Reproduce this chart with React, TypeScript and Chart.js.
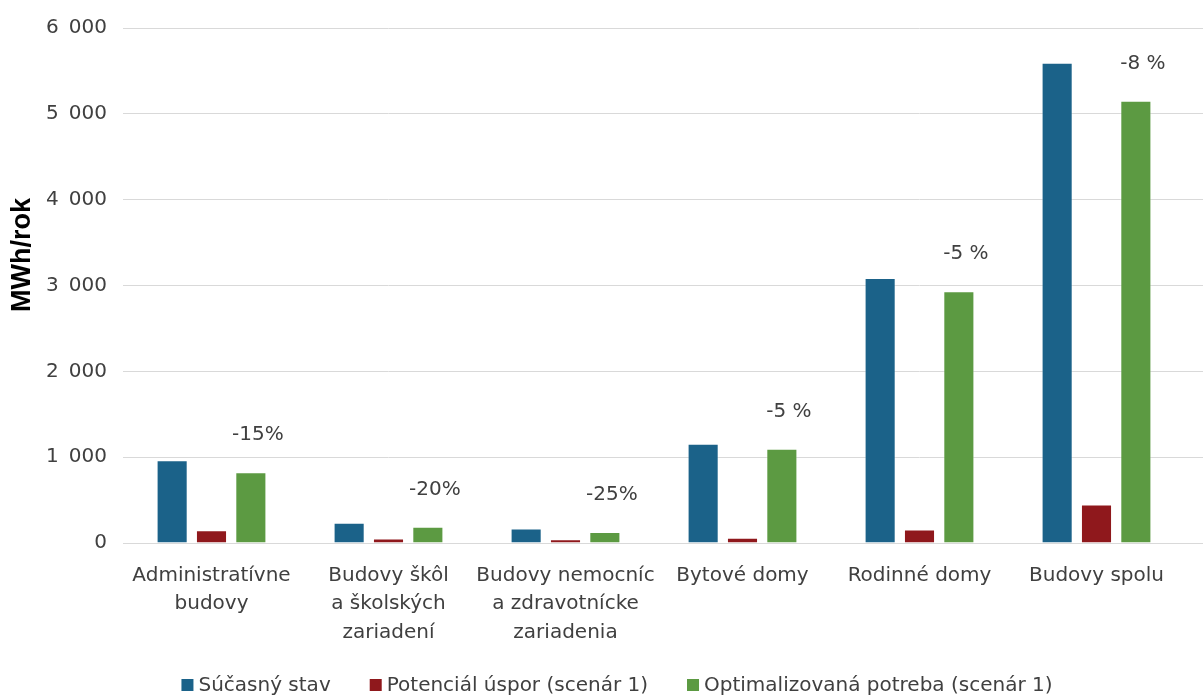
import React, { useEffect, useRef } from "react";
import { Chart, registerables } from "chart.js";

Chart.register(...registerables);

const categories: string[][] = [
  ["Administratívne", "budovy"],
  ["Budovy škôl", "a školských", "zariadení"],
  ["Budovy nemocníc", "a zdravotnícke", "zariadenia"],
  ["Bytové domy"],
  ["Rodinné domy"],
  ["Budovy spolu"],
];
const currentState = [963, 236, 170, 1157, 3087, 5594];
const savingsPotential = [150, 52, 44, 62, 157, 449];
const optimizedDemand = [824, 190, 128, 1099, 2933, 5153];
const pctLabels = ["-15%", "-20%", "-25%", "-5 %", "-5 %", "-8 %"];
const seriesNames = ["Súčasný stav", "Potenciál úspor (scenár 1)", "Optimalizovaná potreba (scenár 1)"];
const seriesColors = ["#1B6289", "#8F181C", "#5C9A42"];
const yTitle = "MWh/rok";

const FONT = "'DejaVu Sans', sans-serif";
const TEXT = "#404040";
const GRID = "#d9d9d9";

const extrasPlugin = {
  id: "extras",
  beforeDatasetsDraw(chart: any) {
    const { ctx, chartArea, scales } = chart;
    const y = scales.y;
    ctx.save();
    ctx.strokeStyle = GRID;
    ctx.lineWidth = 1;
    y.ticks.forEach((t: any) => {
      const py = Math.round(y.getPixelForValue(t.value) - 0.5) + 0.5;
      ctx.beginPath();
      ctx.moveTo(chartArea.right, py);
      ctx.lineTo(chart.width, py);
      ctx.stroke();
    });
    ctx.restore();
  },
  afterDatasetsDraw(chart: any) {
    const { ctx } = chart;
    const meta = chart.getDatasetMeta(2);
    ctx.save();
    ctx.font = `20px ${FONT}`;
    ctx.fillStyle = TEXT;
    ctx.textAlign = "center";
    ctx.textBaseline = "middle";
    meta.data.forEach((el: any, i: number) => {
      ctx.fillText(pctLabels[i], el.x + 7, el.y - 37);
    });
    ctx.restore();
  },
  afterDraw(chart: any) {
    const { ctx } = chart;
    ctx.save();
    ctx.font = `bold 27px 'Liberation Sans', Arial, sans-serif`;
    ctx.fillStyle = "#000";
    ctx.textAlign = "center";
    ctx.textBaseline = "middle";
    ctx.translate(23, 255);
    ctx.rotate(-Math.PI / 2);
    ctx.fillText(yTitle, 0, 0);
    ctx.restore();

    ctx.save();
    ctx.font = `20px ${FONT}`;
    ctx.textBaseline = "middle";
    const box = 12;
    const gapBoxText = 5;
    const itemGap = 39;
    const widths = seriesNames.map((n) => box + gapBoxText + ctx.measureText(n).width);
    const total = widths.reduce((a, b) => a + b, 0) + itemGap * (widths.length - 1);
    let x = 617 - total / 2;
    const cy = 685;
    seriesNames.forEach((n, i) => {
      ctx.fillStyle = seriesColors[i];
      ctx.fillRect(x, cy - box / 2, box, box);
      ctx.fillStyle = TEXT;
      ctx.textAlign = "left";
      ctx.fillText(n, x + box + gapBoxText, cy + 1);
      x += widths[i] + itemGap;
    });
    ctx.restore();
  },
};

export default function App() {
  const ref = useRef<HTMLCanvasElement | null>(null);
  useEffect(() => {
    document.body.style.margin = "0";
    const canvas = ref.current!;
    const mk = (i: number, data: number[]) => ({
      label: seriesNames[i],
      data,
      backgroundColor: seriesColors[i],
      borderColor: "rgba(255,255,255,0.35)",
      borderWidth: 1,
      categoryPercentage: 0.667,
      barPercentage: 0.79,
    });
    const chart = new Chart(canvas, {
      type: "bar",
      data: {
        labels: categories,
        datasets: [mk(0, currentState), mk(1, savingsPotential), mk(2, optimizedDemand)],
      },
      options: {
        animation: false,
        responsive: false,
        maintainAspectRatio: false,
        layout: { padding: { top: 26, right: 18, bottom: 0, left: 0 } },
        plugins: {
          legend: { display: false },
          tooltip: { enabled: false },
        },
        scales: {
          x: {
            grid: { display: false, drawTicks: false },
            border: { display: true, color: GRID, width: 1 },
            ticks: {
              color: TEXT,
              font: { family: FONT, size: 20, lineHeight: 1.43 },
              padding: 18,
              maxRotation: 0,
              autoSkip: false,
            },
            afterFit(scale: any) {
              scale.height = 152;
            },
          },
          y: {
            min: 0,
            max: 6000,
            grid: { color: GRID, drawTicks: false },
            border: { display: false },
            ticks: {
              stepSize: 1000,
              color: TEXT,
              font: { family: FONT, size: 20 },
              padding: 16,
              callback: (v: any) => {
                const n = Number(v);
                return n >= 1000 ? `${Math.floor(n / 1000)}\u2002${String(n % 1000).padStart(3, "0")}` : String(n);
              },
            },
            afterFit(scale: any) {
              scale.width = 123;
            },
          },
        },
      },
      plugins: [extrasPlugin],
    });
    return () => chart.destroy();
  }, []);
  return (
    <div style={{ width: 1203, height: 695 }}>
      <canvas ref={ref} width={1203} height={695} style={{ display: "block" }} />
    </div>
  );
}
